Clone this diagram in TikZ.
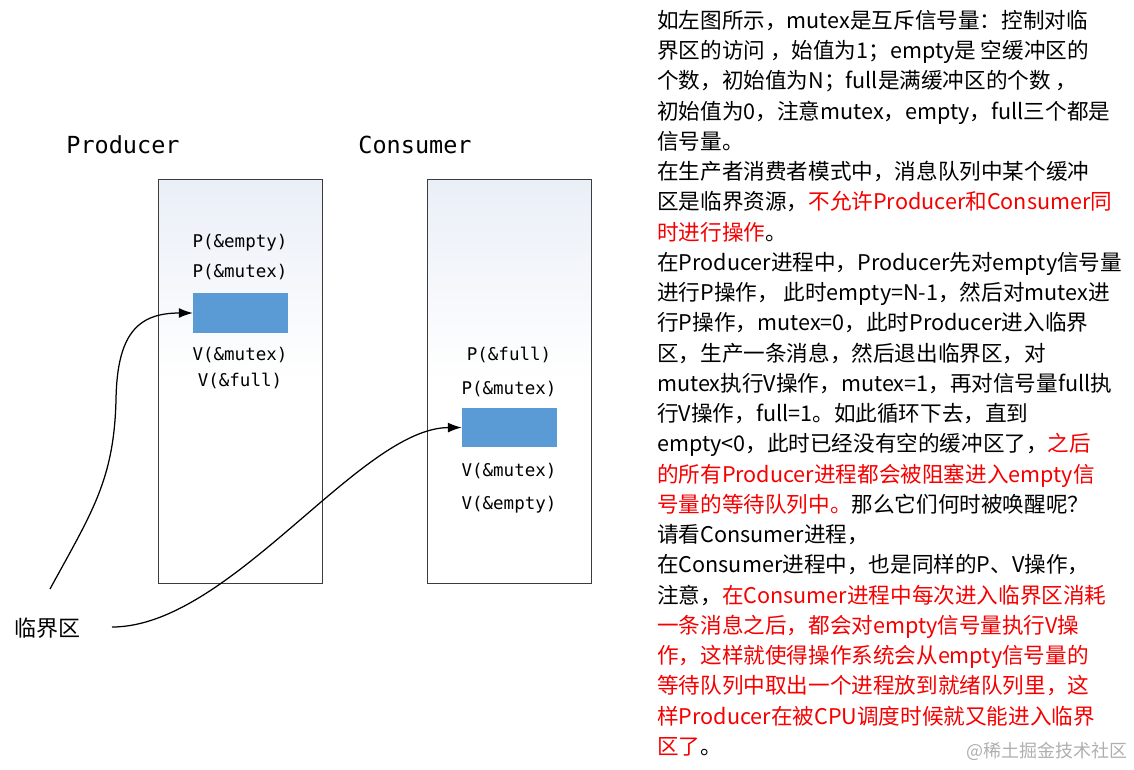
\documentclass[tikz,border=0pt]{standalone}
\usepackage{fontspec}
\setmainfont{Noto Sans CJK SC}
\newfontfamily\monof{DejaVu Sans Mono}
\usetikzlibrary{arrows.meta}
\definecolor{boxblue}{RGB}{91,155,213}
\definecolor{redtxt}{RGB}{245,0,0}
\definecolor{framegray}{RGB}{60,60,60}
\definecolor{topfill}{RGB}{234,239,247}
\definecolor{wmgray}{RGB}{175,175,175}
\newcommand\redpart[1]{\textcolor{redtxt}{#1}}
\tikzset{
  procbox/.style={draw=framegray, line width=0.9pt, top color=topfill, bottom color=white, middle color=white,
    minimum width=164pt, minimum height=404pt, inner sep=0pt},
  buf/.style={fill=boxblue, minimum width=95pt, minimum height=40pt, inner sep=0pt},
  op/.style={font=\monof\fontsize{17.5}{20}\selectfont, inner sep=0pt},
  ttl/.style={font=\monof\fontsize{23.5}{26}\selectfont, inner sep=0pt},
  txt/.style={anchor=base west, inner sep=0pt, font=\fontsize{21.6}{26}\selectfont},
  conn/.style={line width=1.25pt, -{Latex[length=14pt,width=10pt]}},
}
\begin{document}
\begin{tikzpicture}[x=1pt,y=-1pt]
\useasboundingbox (0,0) rectangle (1134,769);
% titles
\node[ttl] (ptitle) at (123,145) {Producer};
\node[ttl] (ctitle) at (415,145) {Consumer};
% boxes
\node[procbox] (pbox) at (240,381) {};
\node[procbox] (cbox) at (509.5,381) {};
% producer contents
\node[op] (pe) at (240,243) {P(\&empty)};
\node[op] (pm) at (240,272) {P(\&mutex)};
\node[buf] (pbuf) at (240.5,313) {};
\node[op] (vm) at (240,355) {V(\&mutex)};
\node[op] (vf) at (240,381) {V(\&full)};
% consumer contents
\node[op] (cpf) at (509,355) {P(\&full)};
\node[op] (cpm) at (509,389) {P(\&mutex)};
\node[buf, minimum height=39pt] (cbuf) at (509.5,427.5) {};
\node[op] (cvm) at (509,471) {V(\&mutex)};
\node[op] (cve) at (509,505) {V(\&empty)};
% critical section label
\node[inner sep=0pt, font=\fontsize{22}{26}\selectfont] (crit) at (47,628) {临界区};
\coordinate (s1) at (50,589);
\coordinate (s2) at (112,627);
\draw[conn] (s1) .. controls (92,512) and (114,480) .. (116,400)
  .. controls (117,335) and (137,313) .. (pbuf.west);
\draw[conn] (s2) .. controls (230,627) and (360,428) .. (cbuf.west);
% right text
\node[txt] (t1) at (657,28.4) {如左图所示，mutex是互斥信号量：控制对临};
\node[txt] (t2) at (657,58.65) {界区的访问 ，始值为1；empty是 空缓冲区的};
\node[txt] (t3) at (657,88.9) {个数，初始值为N；full是满缓冲区的个数 ，};
\node[txt] (t4) at (657,119.15) {初始值为0，注意mutex，empty，full三个都是};
\node[txt] (t5) at (657,149.4) {信号量。};
\node[txt] (t6) at (657,179.65) {在生产者消费者模式中，消息队列中某个缓冲};
\node[txt] (t7) at (657,209.9) {区是临界资源，\redpart{不允许Producer和Consumer同}};
\node[txt] (t8) at (657,240.15) {\redpart{时进行操作}。};
\node[txt] (t9) at (657,270.4) {在Producer进程中，Producer先对empty信号量};
\node[txt] (t10) at (657,300.65) {进行P操作， 此时empty=N-1，然后对mutex进};
\node[txt] (t11) at (657,330.9) {行P操作，mutex=0，此时Producer进入临界};
\node[txt] (t12) at (657,361.15) {区，生产一条消息，然后退出临界区，对};
\node[txt] (t13) at (657,391.4) {mutex执行V操作，mutex=1，再对信号量full执};
\node[txt] (t14) at (657,421.65) {行V操作，full=1。如此循环下去，直到};
\node[txt] (t15) at (657,451.9) {empty<0，此时已经没有空的缓冲区了，\redpart{之后}};
\node[txt] (t16) at (657,482.15) {\redpart{的所有Producer进程都会被阻塞进入empty信}};
\node[txt] (t17) at (657,512.4) {\redpart{号量的等待队列中。}那么它们何时被唤醒呢？};
\node[txt] (t18) at (657,542.65) {请看Consumer进程，};
\node[txt] (t19) at (657,572.9) {在Consumer进程中，也是同样的P、V操作，};
\node[txt] (t20) at (657,603.15) {注意，\redpart{在Consumer进程中每次进入临界区消耗}};
\node[txt] (t21) at (657,633.4) {\redpart{一条消息之后，都会对empty信号量执行V操}};
\node[txt] (t22) at (657,663.65) {\redpart{作，这样就使得操作系统会从empty信号量的}};
\node[txt] (t23) at (657,693.9) {\redpart{等待队列中取出一个进程放到就绪队列里，这}};
\node[txt] (t24) at (657,724.15) {\redpart{样Producer在被CPU调度时候就又能进入临界}};
\node[txt] (t25) at (657,754.4) {\redpart{区了}。};
% watermark
\node[anchor=base east, inner sep=0pt, text=wmgray, font=\fontsize{18}{20}\selectfont] (wm) at (1128,757) {@稀土掘金技术社区};
\end{tikzpicture}
\end{document}
